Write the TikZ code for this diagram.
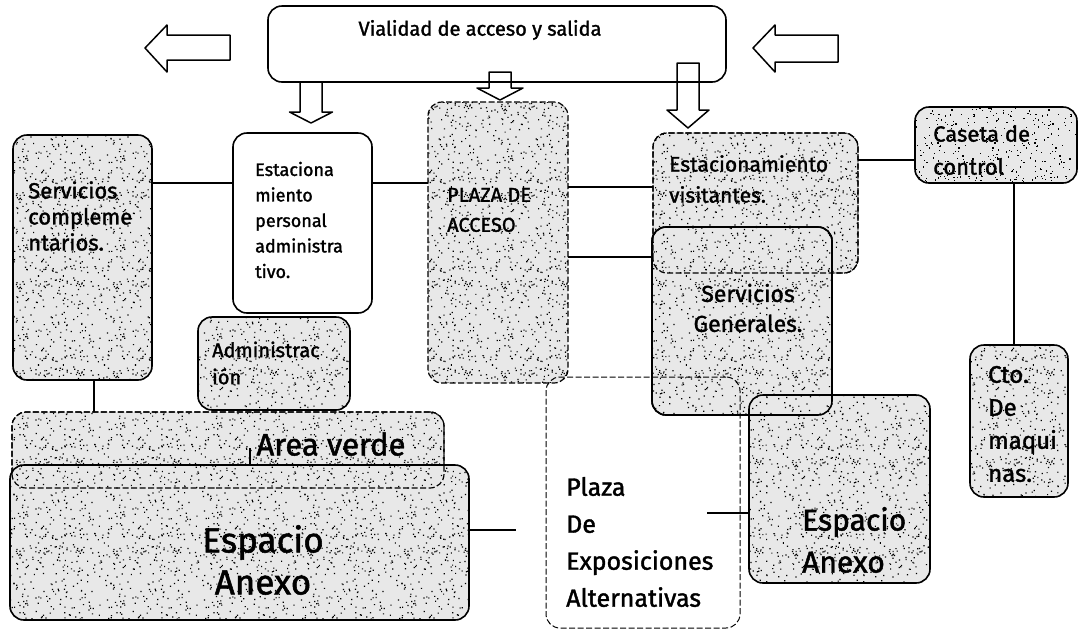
\documentclass[tikz,border=0pt]{standalone}
\usepackage{fontspec}
\setmainfont{Fira Sans}[FakeBold=1.5]
\usetikzlibrary{patterns}
\pgfmathsetseed{17}
\pgfdeclarepatternformonly{stipple}{\pgfpointorigin}{\pgfqpoint{97pt}{89pt}}{\pgfqpoint{97pt}{89pt}}{%
  \foreach \i in {1,...,250}{%
    \pgfmathsetmacro\px{rnd*96}%
    \pgfmathsetmacro\py{rnd*88}%
    \pgfpathrectangle{\pgfpoint{\px pt}{\py pt}}{\pgfpoint{1.2pt}{1.2pt}}%
    \pgfusepath{fill}%
  }%
}
\begin{document}
\begin{tikzpicture}[x=1pt,y=-1pt,
  box/.style={rectangle, inner sep=0pt, outer sep=0pt, rounded corners=14pt},
  solidb/.style={box, draw, line width=1.6pt},
  dashb/.style={box, draw, line width=1.2pt, dash pattern=on 6pt off 2.5pt},
  stip/.style={preaction={fill=black!9}, pattern=stipple, pattern color=black},
  conn/.style={line width=1.6pt},
  arr/.style={line width=1.5pt, line join=round},
  lbl/.style={inner sep=0pt, align=left, anchor=west},
]
\fill[white] (0,0) rectangle (1082,630);
\useasboundingbox (0,0) rectangle (1082,630);

% level coordinates
\coordinate (h183) at (0,183);
\coordinate (h187) at (0,187);
\coordinate (h257) at (0,257);
\coordinate (h160) at (0,160);
\coordinate (h530) at (0,530);
\coordinate (h513) at (0,513);
\coordinate (v1014) at (1014,0);
\coordinate (v94) at (94,0);

% top road box
\node[solidb, fill=white, minimum width=458pt, minimum height=76pt] (via) at (497,44) {};
\node[inner sep=0pt, font=\fontsize{20}{23}\selectfont] (tvia) at (480,30) {Vialidad de acceso y salida};

% block arrows
\draw[arr] (145,48) -- (167,25) -- (167,35) -- (230,35) -- (230,60) -- (167,60) -- (167,72) -- cycle;
\draw[arr] (753,48) -- (775,25) -- (775,35) -- (838,35) -- (838,62) -- (775,62) -- (775,72) -- cycle;
\draw[arr] (300,82) -- (300,112) -- (289.5,112) -- (311,123) -- (332.5,112) -- (322,112) -- (322,82);
\draw[arr] (489,72) -- (489,88) -- (477,88) -- (500,100) -- (523,88) -- (511,88) -- (511,72) -- cycle;
\draw[arr] (677,63) -- (677,110) -- (667,110) -- (688,128) -- (709,110) -- (699,110) -- (699,63) -- cycle;

% boxes
\node[solidb, stip, minimum width=139pt, minimum height=245pt] (servc) at (82.5,257.5) {};
\node[solidb, fill=white, minimum width=139pt, minimum height=180pt] (estp) at (302.5,223) {};
\node[dashb, stip, minimum width=140pt, minimum height=281pt] (plaza) at (498,242.5) {};
\node[dashb, stip, minimum width=205pt, minimum height=140pt] (estv) at (755.5,203) {};
\node[solidb, stip, minimum width=180pt, minimum height=188pt] (sgen) at (742,321) {};
\draw[dashb] (estv.south west) rectangle (estv.north east);
\node[solidb, stip, minimum width=162pt, minimum height=76pt] (caseta) at (996,145) {};
\node[solidb, stip, minimum width=98pt, minimum height=152pt] (cto) at (1019,421) {};
\node[solidb, stip, minimum width=152pt, minimum height=93pt] (admin) at (274,363.5) {};
\node[dashb, stip, minimum width=432pt, minimum height=76pt] (verde) at (228,450) {};
\node[solidb, stip, minimum width=459pt, minimum height=155pt] (espa) at (239.5,542.5) {};
\draw[dashb] (verde.south west) rectangle (verde.north east);
\node[dashb, line width=1pt, minimum width=194pt, minimum height=251pt] (pexp) at (643,502.5) {};
\node[solidb, stip, minimum width=181pt, minimum height=188pt] (espb) at (839.5,489) {};
\draw[solidb] (sgen.south west) rectangle (sgen.north east);

% connectors
\draw[conn] (servc.east |- h183) -- (estp.west |- h183);
\draw[conn] (estp.east |- h183) -- (plaza.west |- h183);
\draw[conn] (plaza.east |- h187) -- (estv.west |- h187);
\draw[conn] (plaza.east |- h257) -- (sgen.west |- h257);
\draw[conn] (estv.east |- h160) -- (caseta.west |- h160);
\draw[conn] (caseta.south -| v1014) -- (cto.north -| v1014);
\draw[conn] (servc.south -| v94) -- (verde.north -| v94);
\coordinate (av) at (250,448);
\draw[conn] (av) -- (espa.north -| av);
\coordinate (e1) at (516,530);
\draw[conn] (espa.east |- h530) -- (e1);
\coordinate (e2) at (707,513);
\draw[conn] (e2) -- (espb.west |- h513);

% labels
\node[lbl, font=\fontsize{22}{26}\selectfont] (tservc) at (28,216) {Servicios\\compleme\\ntarios.};
\node[lbl, font=\fontsize{18}{25.5}\selectfont] (testp) at (255,220) {Estaciona\\miento\\personal\\administra\\tivo.};
\node[lbl, font=\fontsize{20}{30}\selectfont] (tplaza) at (447,210) {PLAZA DE\\ACCESO};
\node[lbl, font=\fontsize{21}{31}\selectfont] (testv) at (669,179) {Estacionamiento\\visitantes.};
\node[inner sep=0pt, align=center, font=\fontsize{23}{30}\selectfont] (tsgen) at (748,308) {Servicios\\Generales.};
\node[lbl, font=\fontsize{22}{33}\selectfont] (tcaseta) at (933,150) {Caseta de\\control};
\node[lbl, font=\fontsize{24}{33}\selectfont] (tcto) at (988,424) {Cto.\\De\\maqui\\nas.};
\node[lbl, font=\fontsize{20}{27}\selectfont] (tadmin) at (212,363) {Administrac\\ión};
\node[inner sep=0pt, font=\fontsize{31}{34}\selectfont] (tverde) at (331,444) {Area verde};
\node[inner sep=0pt, align=center, font=\fontsize{35}{42}\selectfont] (tespa) at (263,560) {Espacio\\Anexo};
\node[lbl, font=\fontsize{25}{37}\selectfont] (tpexp) at (566,542) {Plaza\\De\\Exposiciones\\Alternativas};
\node[lbl, font=\fontsize{30}{42}\selectfont] (tespb) at (802,540) {Espacio\\Anexo};
\end{tikzpicture}
\end{document}
